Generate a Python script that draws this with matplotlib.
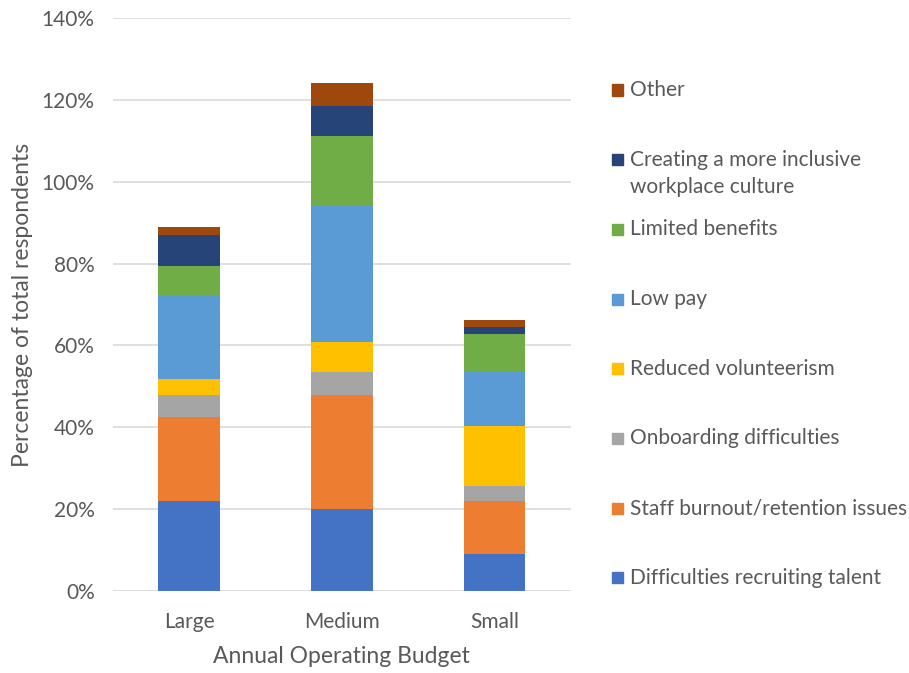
import matplotlib.pyplot as plt
import numpy as np
from matplotlib.ticker import PercentFormatter
from matplotlib.patches import Rectangle

budgets = ['Large', 'Medium', 'Small']
series = ['Difficulties recruiting talent', 'Staff burnout/retention issues',
          'Onboarding difficulties', 'Reduced volunteerism', 'Low pay',
          'Limited benefits', 'Creating a more inclusive\nworkplace culture', 'Other']

recruiting = [22.0, 20.1, 8.9]
burnout = [20.5, 27.7, 13.1]
onboarding = [5.4, 5.7, 3.7]
volunteerism = [3.9, 7.3, 14.7]
low_pay = [20.3, 33.4, 13.0]
benefits = [7.4, 16.9, 9.4]
inclusive = [7.4, 7.4, 1.8]
other = [2.0, 5.6, 1.7]

colors = ['#4472C4', '#ED7D31', '#A5A5A5', '#FFC000', '#5B9BD5', '#70AD47', '#264478', '#9E480E']

plt.rcParams['font.family'] = ['Lato', 'DejaVu Sans']
txt = '#595959'

W, H = 909, 673
fig = plt.figure(figsize=(W / 100, H / 100), dpi=100)
ax = fig.add_axes([0.124, 0.122, 0.504, 0.851])

x = np.arange(len(budgets))
bottom = np.zeros(len(budgets))
for vals, name, c in zip([recruiting, burnout, onboarding, volunteerism, low_pay, benefits, inclusive, other], series, colors):
	ax.bar(x, vals, 0.405, bottom=bottom, color=c, label=name, zorder=3)
	bottom += np.array(vals)

ax.set_xlim(-0.5, 2.5)
ax.set_ylim(0, 140)
ax.set_yticks(np.arange(0, 141, 20))
ax.yaxis.set_major_formatter(PercentFormatter(decimals=0))
ax.set_xticks(x)
ax.set_xticklabels(budgets)
ax.grid(axis='y', color='#D9D9D9', linewidth=1.2, zorder=0)
for s in ax.spines.values():
	s.set_visible(False)
ax.tick_params(length=0, colors=txt, labelsize=15)
ax.tick_params(axis='y', pad=13)
ax.tick_params(axis='x', pad=15)
ax.set_ylabel('Percentage of total respondents', color=txt, fontsize=16.5, labelpad=6)
ax.set_xlabel('Annual Operating Budget', color=txt, fontsize=16.5, labelpad=10)

# legend laid out like Excel: equal slots, marker on the first line of each entry
top_y, slot, line_h = 90, 69.7, 27
for i, (name, c) in enumerate(zip(series[::-1], colors[::-1])):
	yc = top_y + i * slot
	fig.add_artist(Rectangle((612 / W, 1 - (yc + 5.5) / H), 11 / W, 11 / H,
	                         transform=fig.transFigure, color=c))
	for k, line in enumerate(name.split('\n')):
		fig.text(630 / W, 1 - (yc + k * line_h) / H, line, color=txt, fontsize=15,
		         ha='left', va='center')

fig.savefig('out.png', dpi=100)
